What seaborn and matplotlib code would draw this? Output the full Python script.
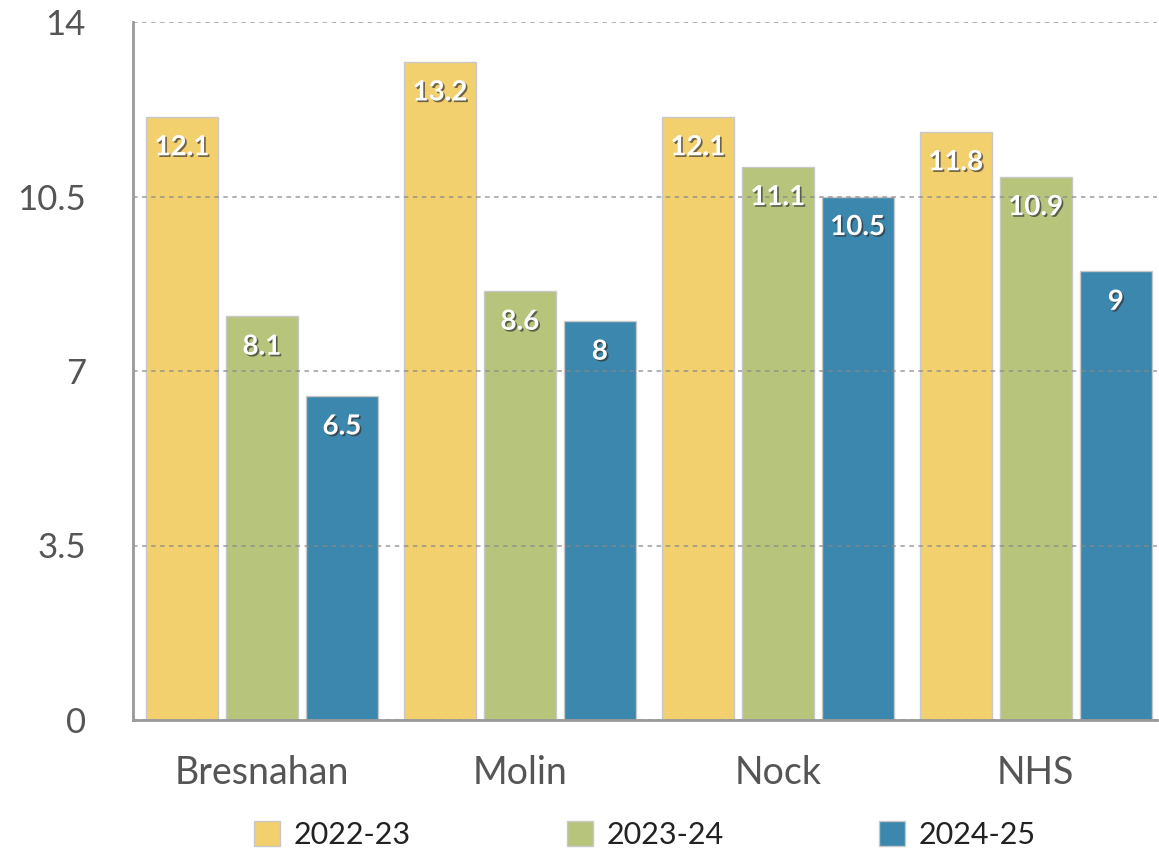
import matplotlib
matplotlib.use("Agg")
import matplotlib.pyplot as plt
import matplotlib.patheffects as pe
import pandas as pd
import seaborn as sns

schools = ["Bresnahan", "Molin", "Nock", "NHS"]
years = ["2022-23", "2023-24", "2024-25"]
vals_2022 = [12.1, 13.2, 12.1, 11.8]
vals_2023 = [8.1, 8.6, 11.1, 10.9]
vals_2024 = [6.5, 8, 10.5, 9]
yticks = [0, 3.5, 7, 10.5, 14]
colors = ["#F2D06E", "#B6C47C", "#3B87AE"]

rows = []
for year, vals in zip(years, [vals_2022, vals_2023, vals_2024]):
    for s, v in zip(schools, vals):
        rows.append({"school": s, "year": year, "value": v})
df = pd.DataFrame(rows)

sns.set_style("white")
plt.rcParams["font.family"] = ["Lato", "DejaVu Sans"]

W, H = 1159, 856
fig = plt.figure(figsize=(W / 100, H / 100), dpi=100)
ax = fig.add_axes([133 / W, 1 - 720 / H, (1157 - 133) / W, 698 / H])

sns.barplot(
    data=df,
    x="school",
    y="value",
    hue="year",
    palette=colors,
    saturation=1,
    width=0.93,
    gap=0.1,
    edgecolor="#c8c8c8",
    linewidth=1,
    ax=ax,
    zorder=2
)

# value labels inside the bar tops
shadow = [
    pe.SimplePatchShadow(offset=(1.2, -1.2), shadow_rgbFace="#333333", alpha=0.7),
    pe.Normal()
]
for cont in ax.containers:
    for bar, v in zip(cont, cont.datavalues):
        ax.annotate(
            f"{v:g}",
            (bar.get_x() + bar.get_width() / 2, bar.get_height()),
            xytext=(0, -22),
            textcoords="offset points",
            ha="center",
            va="center",
            fontsize=20,
            fontweight="bold",
            color="white",
            path_effects=shadow,
            zorder=4
        )

ax.set_ylim(0, 14)
ax.set_xlim(-0.5, 3.47)
ax.set_yticks(yticks)
ax.set_yticklabels([f"{t:g}" for t in yticks])
ax.set_xlabel("")
ax.set_ylabel("")

ax.yaxis.grid(True, linestyle=(0, (2.5, 2.5)), color="#888888", linewidth=1.3, alpha=0.7, zorder=3)
ax.set_axisbelow(False)
for line in ax.get_ygridlines():
    line.set_zorder(3)

for side in ["top", "right"]:
    ax.spines[side].set_visible(False)
for side in ["left", "bottom"]:
    ax.spines[side].set_color("#999999")
    ax.spines[side].set_linewidth(2)
    ax.spines[side].set_zorder(5)

ax.tick_params(axis="y", length=0, pad=34, labelsize=25, labelcolor="#555555")
ax.tick_params(axis="x", length=0, pad=25, labelsize=27, labelcolor="#555555")

handles, labels = ax.get_legend_handles_labels()
leg = ax.legend(
    handles,
    labels,
    loc="center",
    bbox_to_anchor=(0.5, -0.165),
    ncol=3,
    frameon=False,
    fontsize=22,
    handlelength=0.85,
    handleheight=0.85,
    handletextpad=0.45,
    columnspacing=5.1
)
for t in leg.get_texts():
    t.set_color("#222222")

fig.savefig("out.png", dpi=100)
